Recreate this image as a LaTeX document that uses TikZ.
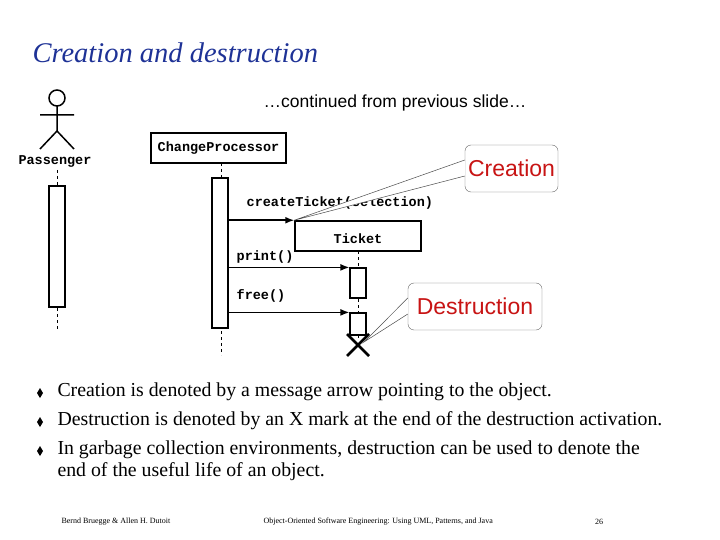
\documentclass[tikz,border=0pt]{standalone}
\usepackage{fontspec}
\setmainfont{Liberation Serif}
\setsansfont{Liberation Sans}
\setmonofont{Liberation Mono}
\usetikzlibrary{calc,arrows.meta}
\definecolor{titleblue}{RGB}{30,50,150}
\definecolor{callred}{RGB}{200,20,20}
\tikzset{
  obj/.style={draw,line width=1.5pt,inner sep=0pt},
  act/.style={draw,line width=1.2pt,fill=white},
  life/.style={dashed,line width=0.6pt},
  msg/.style={line width=1.5pt,-{Latex[length=9pt,width=7pt]}},
  lbl/.style={font=\ttfamily\bfseries\fontsize{13.5}{15}\selectfont},
  callout/.style={draw=black!60,rounded corners=6pt,fill=white,font=\sffamily\fontsize{23}{26}\selectfont,text=callred,inner sep=3pt},
  bul/.style={anchor=west,font=\fontsize{19.8}{22}\selectfont}
}
\begin{document}
\begin{tikzpicture}[x=1pt,y=-1pt]
	\useasboundingbox (0,0) rectangle (720,540);
	\node[anchor=west,font=\itshape\fontsize{28.5}{32}\selectfont,text=titleblue] (title) at (29,53) {Creation and destruction};
	\node[font=\sffamily\fontsize{17.5}{20}\selectfont] (cont) at (395,103) {\dots continued from previous slide\dots};
	
	% passenger actor
	\draw[line width=1.5pt] (57,98) circle (8);
	\draw[line width=1.5pt] (57,106) -- (57,131) (40,115) -- (74,115) (40,149) -- (57,131) -- (74,149);
	\node[lbl] (pass) at (55,161) {Passenger};
	\draw[life] (57,170) -- (57,330);
	\node[act,minimum width=16pt,minimum height=121pt] (pact) at (57,246.5) {};
	
	% objects
	\node[obj,minimum width=135pt,minimum height=30pt,lbl] (cp) at (218.5,148) {ChangeProcessor};
	\draw[life] (221,163) -- (221,355);
	\node[act,minimum width=16pt,minimum height=150pt] (cpact) at (220,253) {};
	
	\node[obj,minimum width=126pt,minimum height=30pt,lbl,text height=15pt] (tk) at (358,236) {Ticket};
	\draw[life] (358,251) -- (358,340);
	\node[act,minimum width=16pt,minimum height=30pt] (ta) at (358,283) {};
	\node[act,minimum width=16pt,minimum height=22pt] (tb) at (358,324) {};
	
	% messages
	\draw[msg] (cpact.east |- tk.north) -- (tk.north west) node[lbl,pos=0,anchor=south west,yshift=7pt,xshift=14pt] (m1) {createTicket(selection)};
	\draw[msg] (cpact.east |- ta.north) -- (ta.north west) node[lbl,pos=0,anchor=south west,xshift=4pt] (m2) {print()};
	\draw[msg] (cpact.east |- tb.north) -- (tb.north west) node[lbl,pos=0,anchor=south west,xshift=4pt,yshift=6pt] (m3) {free()};
	
	% destruction mark
	\coordinate (xm) at (358,345);
	\draw[line width=2.5pt] ($(xm)+(-11,-11)$) -- ($(xm)+(11,11)$) ($(xm)+(-11,11)$) -- ($(xm)+(11,-11)$);
	
	% callouts
	\node[callout,minimum width=93pt,minimum height=47pt] (cre) at (511.5,168.5) {Creation};
	\fill[white,draw=black!70,line width=0.5pt] (cre.west |- 0,160) -- (tk.north west) -- (cre.west |- 0,176);
	\node[callout,minimum width=134pt,minimum height=47pt] (des) at (475,306.5) {Destruction};
	\fill[white,draw=black!70,line width=0.5pt] (des.west |- 0,298) -- (364,342) -- (des.west |- 0,314);
	
	% bullets
	\foreach \yy/\txt [count=\i] in {392/Creation is denoted by a message arrow pointing to the object.,
	  421/Destruction is denoted by an X mark at the end of the destruction activation.,
	  450/{In garbage collection environments, destruction can be used to denote the}}{
	  \fill (40,\yy-4) -- (43,\yy+1) -- (40,\yy+6) -- (37,\yy+1) -- cycle;
	  \node[bul] (t\i) at (54,\yy) {\txt};
	}
	\node[bul] (t4) at (54,472) {end of the useful life of an object.};
	
	% footer
	\node[anchor=west,font=\fontsize{8}{9}\selectfont] (f1) at (58,522) {Bernd Bruegge \& Allen H. Dutoit};
	\node[anchor=west,font=\fontsize{8}{9}\selectfont] (f2) at (260,522) {Object-Oriented Software Engineering: Using UML, Patterns, and Java};
	\node[font=\fontsize{8}{9}\selectfont] (f3) at (599,522) {26};
\end{tikzpicture}
\end{document}
